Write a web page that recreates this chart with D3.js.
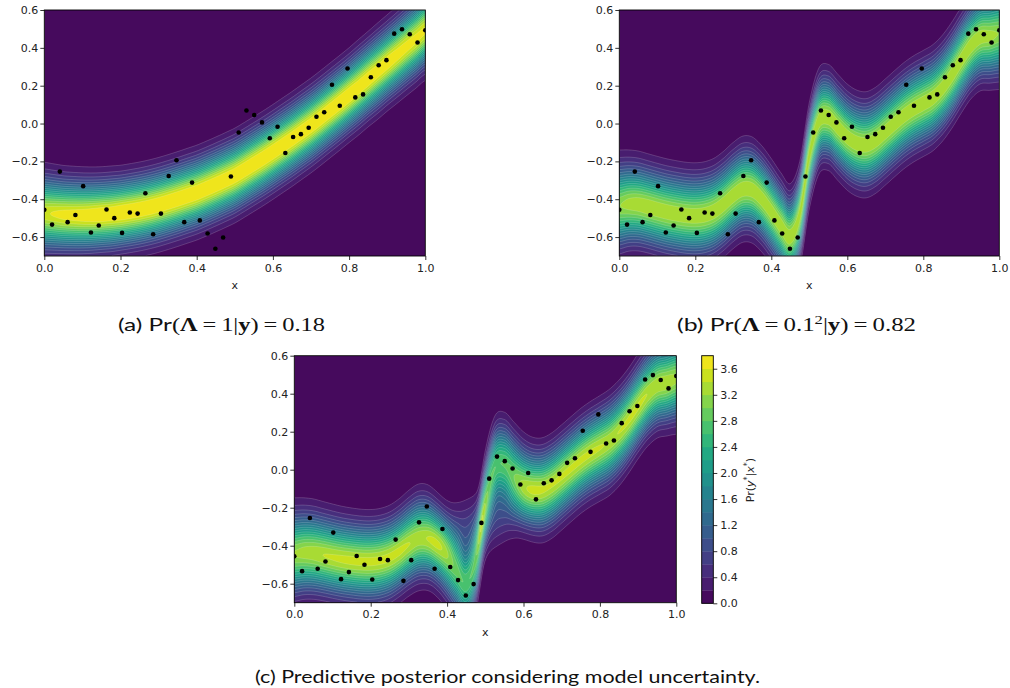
<!DOCTYPE html>
<html><head><meta charset="utf-8">
<script src="https://cdn.jsdelivr.net/npm/d3@7"></script>
<style>body{margin:0;background:#fff} svg{display:block}</style>
</head><body>
<svg id="chart" width="1010" height="688"></svg>
<script>
// ---------- data ----------
const gridX = [0,0.025,0.05,0.075,0.1,0.125,0.15,0.175,0.2,0.225,0.25,0.275,0.3,0.325,0.35,0.375,0.4,0.425,0.45,0.475,0.5,0.525,0.55,0.575,0.6,0.625,0.65,0.675,0.7,0.725,0.75,0.775,0.8,0.825,0.85,0.875,0.9,0.925,0.95,0.975,1.0];
// predictive mean / std, model (a) Lambda = 1
const meanA = [-0.474,-0.478,-0.482,-0.484,-0.485,-0.484,-0.481,-0.477,-0.471,-0.463,-0.454,-0.443,-0.430,-0.415,-0.399,-0.382,-0.365,-0.344,-0.322,-0.299,-0.275,-0.245,-0.214,-0.183,-0.150,-0.116,-0.082,-0.046,-0.010,0.029,0.069,0.109,0.150,0.192,0.235,0.277,0.320,0.362,0.405,0.447,0.490];
const sdA = [0.112,0.110,0.108,0.107,0.106,0.105,0.104,0.104,0.103,0.103,0.103,0.103,0.103,0.103,0.103,0.103,0.103,0.103,0.103,0.103,0.103,0.103,0.103,0.103,0.103,0.103,0.103,0.103,0.103,0.103,0.103,0.103,0.103,0.104,0.104,0.105,0.105,0.106,0.107,0.108,0.109];
// predictive mean / std, model (b) Lambda = 0.1^2
const meanB = [-0.434,-0.426,-0.428,-0.440,-0.454,-0.467,-0.477,-0.485,-0.488,-0.482,-0.463,-0.426,-0.380,-0.347,-0.352,-0.398,-0.466,-0.540,-0.598,-0.480,-0.170,0.012,0.032,-0.020,-0.072,-0.104,-0.112,-0.088,-0.045,0.000,0.043,0.078,0.106,0.136,0.186,0.255,0.336,0.410,0.455,0.462,0.474];
const sdB = [0.125,0.121,0.119,0.118,0.118,0.118,0.118,0.118,0.118,0.118,0.118,0.118,0.118,0.118,0.118,0.118,0.118,0.118,0.118,0.118,0.118,0.118,0.118,0.118,0.118,0.118,0.118,0.118,0.118,0.118,0.118,0.118,0.118,0.118,0.118,0.118,0.118,0.118,0.119,0.121,0.125];
// model posterior weights
const weightA = 0.18, weightB = 0.82;
// observations
const obsX = [0,0.0204,0.0408,0.0612,0.0816,0.102,0.1224,0.1429,0.1633,0.1837,0.2041,0.2245,0.2449,0.2653,0.2857,0.3061,0.3265,0.3469,0.3673,0.3878,0.4082,0.4286,0.449,0.4694,0.4898,0.5102,0.5306,0.551,0.5714,0.5918,0.6122,0.6327,0.6531,0.6735,0.6939,0.7143,0.7347,0.7551,0.7755,0.7959,0.8163,0.8367,0.8571,0.8776,0.898,0.9184,0.9388,0.9592,0.9796,1.0];
const obsY = [-0.456,-0.534,-0.254,-0.521,-0.483,-0.331,-0.576,-0.539,-0.454,-0.500,-0.578,-0.470,-0.476,-0.368,-0.585,-0.476,-0.277,-0.194,-0.521,-0.312,-0.512,-0.581,-0.662,-0.602,-0.280,-0.047,0.069,0.045,0.006,-0.078,-0.017,-0.156,-0.071,-0.056,-0.022,0.036,0.060,0.205,0.094,0.291,0.138,0.154,0.245,0.308,0.335,0.475,0.498,0.472,0.428,0.493];
// contour levels and ticks
const levels = [0,0.2,0.4,0.6,0.8,1.0,1.2,1.4,1.6,1.8,2.0,2.2,2.4,2.6,2.8,3.0,3.2,3.4,3.6,3.8];
const xTicks = [0,0.2,0.4,0.6,0.8,1.0];
const yTicks = [-0.6,-0.4,-0.2,0,0.2,0.4,0.6];
const cbTicks = [0,0.4,0.8,1.2,1.6,2.0,2.4,2.8,3.2,3.6];
const yDomain = [-0.7,0.6];

// ---------- helpers ----------
const svg = d3.select('#chart');
const vmax = levels[levels.length-1];
const bandColor = k => d3.interpolateViridis(((levels[k]+levels[k+1])/2)/vmax);

function curveAt(xs, ys, x){
  const n = xs.length;
  const k = Math.min(n-2, Math.max(0, d3.bisectRight(xs, x)-1));
  const t = (x - xs[k])/(xs[k+1]-xs[k]);
  const p0 = ys[Math.max(0,k-1)], p1 = ys[k], p2 = ys[k+1], p3 = ys[Math.min(n-1,k+2)];
  const t2=t*t, t3=t2*t;
  return 0.5*((2*p1) + (-p0+p2)*t + (2*p0-5*p1+4*p2-p3)*t2 + (-p0+3*p1-3*p2+p3)*t3);
}
const pdf = (y,m,s) => Math.exp(-0.5*((y-m)/s)**2)/(s*Math.sqrt(2*Math.PI));

function drawPanel(box, densAt){
  const g = svg.append('g');
  const xs = d3.scaleLinear().domain([0,1]).range([box.x, box.x+box.w]);
  const ys = d3.scaleLinear().domain(yDomain).range([box.y+box.h, box.y]);
  const nx = Math.round(box.w), ny = Math.round(box.h);
  const values = new Float64Array(nx*ny);
  for(let i=0;i<nx;i++){
    const xv = xs.invert(box.x + (i+0.5)*box.w/nx);
    const col = densAt(xv);
    for(let j=0;j<ny;j++){
      const yv = ys.invert(box.y + (j+0.5)*box.h/ny);
      values[j*nx+i] = col(yv);
    }
  }
  const thr = levels.slice(1, levels.length-1);
  const contours = d3.contours().size([nx,ny]).thresholds(thr)(values);
  const clipId = 'clip'+Math.round(box.x)+'_'+Math.round(box.y);
  svg.append('clipPath').attr('id',clipId).append('rect')
    .attr('x',box.x).attr('y',box.y).attr('width',box.w).attr('height',box.h);
  const pg = g.append('g').attr('clip-path',`url(#${clipId})`);
  pg.append('rect').attr('x',box.x).attr('y',box.y).attr('width',box.w).attr('height',box.h)
    .attr('fill', bandColor(0));
  pg.append('g').attr('transform',`translate(${box.x},${box.y}) scale(${box.w/nx},${box.h/ny})`)
    .selectAll('path').data(contours).join('path')
    .attr('d', d3.geoPath())
    .attr('fill', (d,i)=> bandColor(i+1))
    .attr('stroke','rgba(255,255,255,0.3)')
    .attr('stroke-width',0.6)
    .attr('vector-effect','non-scaling-stroke');
  pg.append('g').selectAll('circle').data(obsX).join('circle')
    .attr('cx',(d)=>xs(d)).attr('cy',(d,i)=>ys(obsY[i])).attr('r',2.3).attr('fill','#000');
  // axes
  const ax = g.append('g').attr('transform',`translate(0,${box.y+box.h})`)
    .call(d3.axisBottom(xs).tickValues(xTicks).tickFormat(d3.format('.1f')).tickSize(4).tickPadding(4).tickSizeOuter(0));
  const ay = g.append('g').attr('transform',`translate(${box.x},0)`)
    .call(d3.axisLeft(ys).tickValues(yTicks).tickFormat(d3.format('.1f')).tickSize(4).tickPadding(2).tickSizeOuter(0));
  [ax,ay].forEach(a=>{a.attr('font-family','DejaVu Sans').attr('font-size',11);
    a.select('.domain').remove(); a.selectAll('line').attr('stroke','#000').attr('stroke-width',0.8);
    a.selectAll('text').attr('fill','#222');});
  g.append('rect').attr('x',box.x).attr('y',box.y).attr('width',box.w).attr('height',box.h)
    .attr('fill','none').attr('stroke','#000').attr('stroke-width',0.9);
  g.append('text').attr('x',box.x+box.w/2).attr('y',box.y+box.h+33)
    .attr('text-anchor','middle').attr('font-family','DejaVu Sans').attr('font-size',11).attr('fill','#222').text('x');
  return g;
}

const colA = x => { const m=curveAt(gridX,meanA,x), s=curveAt(gridX,sdA,x); return y=>pdf(y,m,s); };
const colB = x => { const m=curveAt(gridX,meanB,x), s=curveAt(gridX,sdB,x); return y=>pdf(y,m,s); };
const colC = x => { const a=colA(x), b=colB(x); return y=> weightA*a(y)+weightB*b(y); };

drawPanel({x:44.3,y:10,w:381,h:246}, colA);
drawPanel({x:619.3,y:10,w:380,h:246}, colB);
drawPanel({x:294.3,y:355.7,w:382,h:247}, colC);

// ---------- colorbar ----------
const cb = {x:701.7, y:355.7, w:11.6, h:247.6};
const cbScale = d3.scaleLinear().domain([0,vmax]).range([cb.y+cb.h, cb.y]);
const cbg = svg.append('g');
cbg.selectAll('rect.band').data(levels.slice(0,-1)).join('rect').attr('class','band')
  .attr('x',cb.x).attr('width',cb.w)
  .attr('y',(d,i)=>cbScale(levels[i+1])).attr('height',(d,i)=>cbScale(levels[i])-cbScale(levels[i+1])+0.3)
  .attr('fill',(d,i)=>bandColor(i));
cbg.append('rect').attr('x',cb.x).attr('y',cb.y).attr('width',cb.w).attr('height',cb.h)
  .attr('fill','none').attr('stroke','#000').attr('stroke-width',0.9);
const cba = cbg.append('g').attr('transform',`translate(${cb.x+cb.w},0)`)
  .call(d3.axisRight(cbScale).tickValues(cbTicks).tickFormat(d3.format('.1f')).tickSize(4).tickPadding(3).tickSizeOuter(0));
cba.attr('font-family','DejaVu Sans').attr('font-size',11);
cba.select('.domain').remove(); cba.selectAll('line').attr('stroke','#000').attr('stroke-width',0.8);
cba.selectAll('text').attr('fill','#222');
const cbl = cbg.append('text').attr('transform','translate(754,480) rotate(-90)')
  .attr('text-anchor','middle').attr('font-family','DejaVu Sans').attr('font-size',11).attr('fill','#222');
cbl.append('tspan').text('Pr(');
cbl.append('tspan').attr('font-style','italic').text('y');
cbl.append('tspan').attr('font-size',8).attr('dy',-4).text('*');
cbl.append('tspan').attr('dy',4).text('|');
cbl.append('tspan').attr('font-style','italic').text('x');
cbl.append('tspan').attr('font-size',8).attr('dy',-4).text('*');
cbl.append('tspan').attr('dy',4).text(')');

// ---------- captions ----------
const sans = "'Lato','Open Sans','DejaVu Sans',sans-serif", serif = "'Liberation Serif','DejaVu Serif',serif";
function caption(x, y, parts, len){
  const t = svg.append('text').attr('x',x).attr('y',y).attr('text-anchor','middle')
    .attr('font-size',18).attr('fill','#111')
    .attr('textLength',len).attr('lengthAdjust','spacingAndGlyphs');
  parts.forEach(p=>{
    const s = t.append('tspan').attr('font-family', p.f==='s'?sans:serif).text(p.t)
      .attr('font-weight', p.b ? 700 : 400);
    if(p.sup) s.attr('font-size',12).attr('dy',-7);
    if(p.down) s.attr('dy',7);
  });
}
caption(221.5, 331, [{t:'(a) Pr',f:'s'},{t:'(',f:'m'},{t:'Λ',f:'m',b:1},{t:'\u2009=\u20091',f:'m'},{t:'|',f:'m'},{t:'y',f:'m',b:1},{t:')\u2009=\u20090.18',f:'m'}], 207);
caption(796.5, 331, [{t:'(b) Pr',f:'s'},{t:'(',f:'m'},{t:'Λ',f:'m',b:1},{t:'\u2009=\u20090.1',f:'m'},{t:'2',f:'m',sup:1},{t:'|',f:'m',down:1},{t:'y',f:'m',b:1},{t:')\u2009=\u20090.82',f:'m'}], 239);
caption(507.5, 683, [{t:'(c) Predictive posterior considering model uncertainty.',f:'s'}], 505);
</script>
</body></html>
